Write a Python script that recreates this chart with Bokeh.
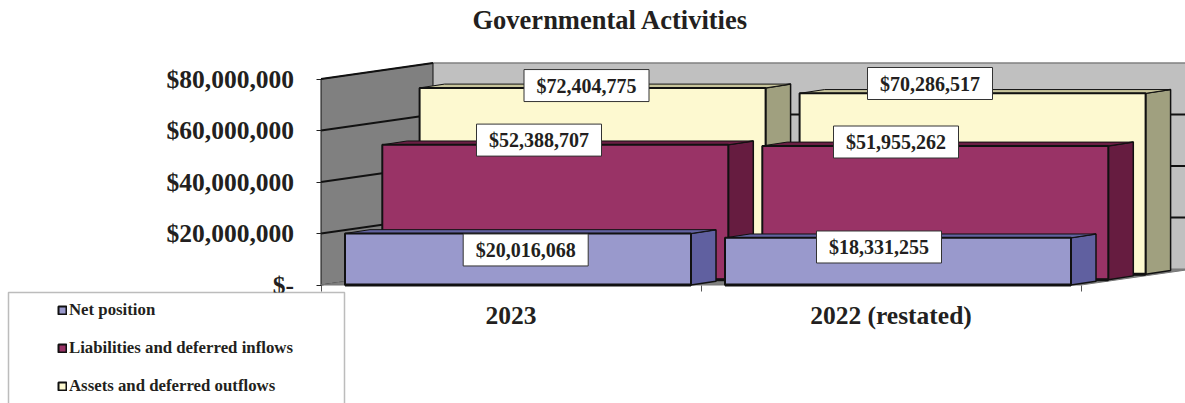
from bokeh.plotting import figure
from bokeh.embed import file_html
from bokeh.resources import INLINE
from bokeh.core.properties import value
from bokeh.models import (Range1d, FixedTicker, Legend, LegendItem, BoxAnnotation)

title = "Governmental Activities"
categories = ["2023", "2022 (restated)"]
net_position = [20016068, 18331255]
liabilities = [52388707, 51955262]
assets = [72404775, 70286517]
net_labels = ["$20,016,068", "$18,331,255"]
liab_labels = ["$52,388,707", "$51,955,262"]
asset_labels = ["$72,404,775", "$70,286,517"]
y_ticks = [0, 20000000, 40000000, 60000000, 80000000]
y_tick_labels = ["$-", "$20,000,000", "$40,000,000", "$60,000,000", "$80,000,000"]

# scale: pixels per category and per dollar
PX_CAT = 380.0
PX_USD = 206.0 / 80000000
X = lambda px: px / PX_CAT
Y = lambda px: px / PX_USD
DEPTH_X, DEPTH_Y = 112, 16
SLOT_X, SLOT_Y = 37.3, 5.33
BAR_W, BAR_DX, BAR_DY, BAR_LEFT = 346, 25, 3.8, 24
TITLE_H = 34
ORIGIN_X, ORIGIN_Y = 320.5, 284.5
W, H = 1185, 403

FONT = "Liberation Serif"
INK = "#231F20"

p = figure(width=W, height=H, output_backend="svg", toolbar_location=None,
           x_range=Range1d(X(-ORIGIN_X), X(W - ORIGIN_X)),
           y_range=Range1d(Y(ORIGIN_Y - H), Y(ORIGIN_Y - TITLE_H)),
           min_border_left=0, min_border_right=0, min_border_top=TITLE_H, min_border_bottom=0,
           outline_line_color=None, background_fill_color="white")
p.grid.visible = False

p.title.text = title
p.title.align = "left"
p.title.offset = 472
p.title.standoff = 0
p.title.text_font = FONT
p.title.text_font_style = "bold"
p.title.text_font_size = "26.5px"
p.title.text_color = INK

# y axis
ax = p.yaxis[0]
ax.fixed_location = 0
ax.ticker = FixedTicker(ticks=y_ticks)
ax.major_label_overrides = dict(zip(y_ticks, y_tick_labels))
ax.axis_line_color = None
ax.major_tick_in = 0
ax.major_tick_out = 5
ax.major_tick_line_color = "#222222"
ax.minor_tick_line_color = None
ax.major_label_standoff = 22
ax.major_label_text_font = FONT
ax.major_label_text_font_style = "bold"
ax.major_label_text_font_size = "25.5px"
ax.major_label_text_color = INK

# x axis: category names between the ticks
xa = p.xaxis[0]
xa.fixed_location = 0
xa.ticker = FixedTicker(ticks=[0.5, 1.5], minor_ticks=[0, 1, 2])
xa.major_label_overrides = {0.5: categories[0], 1.5: categories[1]}
xa.axis_line_color = None
xa.major_tick_in = 0
xa.major_tick_out = 0
xa.minor_tick_in = 0
xa.minor_tick_out = 6
xa.minor_tick_line_color = "#555555"
xa.major_label_standoff = 10
xa.major_label_text_font = FONT
xa.major_label_text_font_style = "bold"
xa.major_label_text_font_size = "25.5px"
xa.major_label_text_color = INK

n = len(categories)
top_usd = y_ticks[-1]
dx, dy = X(DEPTH_X), Y(DEPTH_Y)

# walls and floor
p.patch([dx, n + dx + 1, n + dx + 1, dx], [dy, dy, top_usd + dy, top_usd + dy],
        fill_color="#C0C0C0", line_color=None)
p.line([dx, n + dx + 1], [top_usd + dy] * 2, line_color="#808080", line_width=1.5)
p.patch([0, dx, dx, 0], [0, dy, top_usd + dy, top_usd], fill_color="#808080",
        line_color="#111111", line_width=1)
p.line([0, dx], [top_usd, top_usd + dy], line_color="#111111", line_width=2)
p.patch([0, n, n + dx, dx], [0, 0, dy, dy], fill_color="#808080", line_color="#777777", line_width=1)
p.segment([dx] * 3, [t + dy for t in y_ticks[1:4]], [n + dx + 1] * 3, [t + dy for t in y_ticks[1:4]],
          line_color="#111111", line_width=2)
p.segment([0] * 3, y_ticks[1:4], [dx] * 3, [t + dy for t in y_ticks[1:4]],
          line_color="#111111", line_width=2)

series = [
    ("Assets and deferred outflows", assets, asset_labels, 2, "#FDF9D0", "#A0A07F", "#C8C59C",
     [(265.5, 13), (609, 20.5)]),
    ("Liabilities and deferred inflows", liabilities, liab_labels, 1, "#993366", "#661C40", "#6B1F44",
     [(218, 10), (575, 9.2)]),
    ("Net position", net_position, net_labels, 0, "#9999CC", "#6060A0", "#6262A0",
     [(204.7, -16.5), (558, -9.2)]),
]

renderers = {}
for name, vals, labels, slot, front, side, top, label_pos in series:
    ox, oy = X(BAR_LEFT + slot * SLOT_X), Y(slot * SLOT_Y)
    w = X(BAR_W)
    bdx, bdy = X(BAR_DX), Y(BAR_DY)
    for i, v in enumerate(vals):
        left, right = i + ox, i + ox + w
        t = v + oy
        p.patch([right, right + bdx, right + bdx, right], [oy, oy + bdy, t + bdy, t],
                fill_color=side, line_color="#111111", line_width=1.5)
        p.patch([left, left + bdx, right + bdx, right], [t, t + bdy, t + bdy, t],
                fill_color=top, line_color="#111111", line_width=1)
    r = p.vbar(x=[i + ox + w / 2 for i in range(n)], width=w, bottom=oy,
               top=[v + oy for v in vals], fill_color=front, line_color="#111111", line_width=2)
    p.segment([i + ox for i in range(n)], [oy] * n, [i + ox + w for i in range(n)], [oy] * n,
              line_color="#111111", line_width=3)
    renderers[name] = (r, front)

# value labels drawn above all bars
for name, vals, labels, slot, front, side, top, label_pos in series:
    xs = [X(a) for a, _ in label_pos]
    ys = [v + Y(b) for v, (_, b) in zip(vals, label_pos)]
    p.rect(xs, ys, width=125, height=32, width_units="screen", height_units="screen",
           fill_color="white", line_color="#333333", line_width=1)
    p.text(xs, ys, text=labels, text_align="center", text_baseline="middle",
           text_font=value(FONT), text_font_style="bold", text_font_size="20px", text_color=INK)

# legend box, running off the bottom of the picture
box = BoxAnnotation(left=8, right=344, top=292, bottom=420,
                    left_units="canvas", right_units="canvas", top_units="canvas", bottom_units="canvas",
                    fill_color="white", fill_alpha=1, line_color="#222222", line_width=1.5, level="annotation")
p.add_layout(box)

items = [LegendItem(label=nm, renderers=[renderers[nm][0]])
         for nm in ["Net position", "Liabilities and deferred inflows", "Assets and deferred outflows"]]
legend = Legend(items=items, location=(57, 7), padding=0, margin=0, spacing=18,
                glyph_width=10, glyph_height=10, label_standoff=2, border_line_color=None,
                background_fill_alpha=0, label_text_font=FONT, label_text_font_style="bold",
                label_text_font_size="16.8px", label_text_color=INK, label_height=17)
p.add_layout(legend, "center")

open("out.html", "w").write(file_html(p, INLINE))
